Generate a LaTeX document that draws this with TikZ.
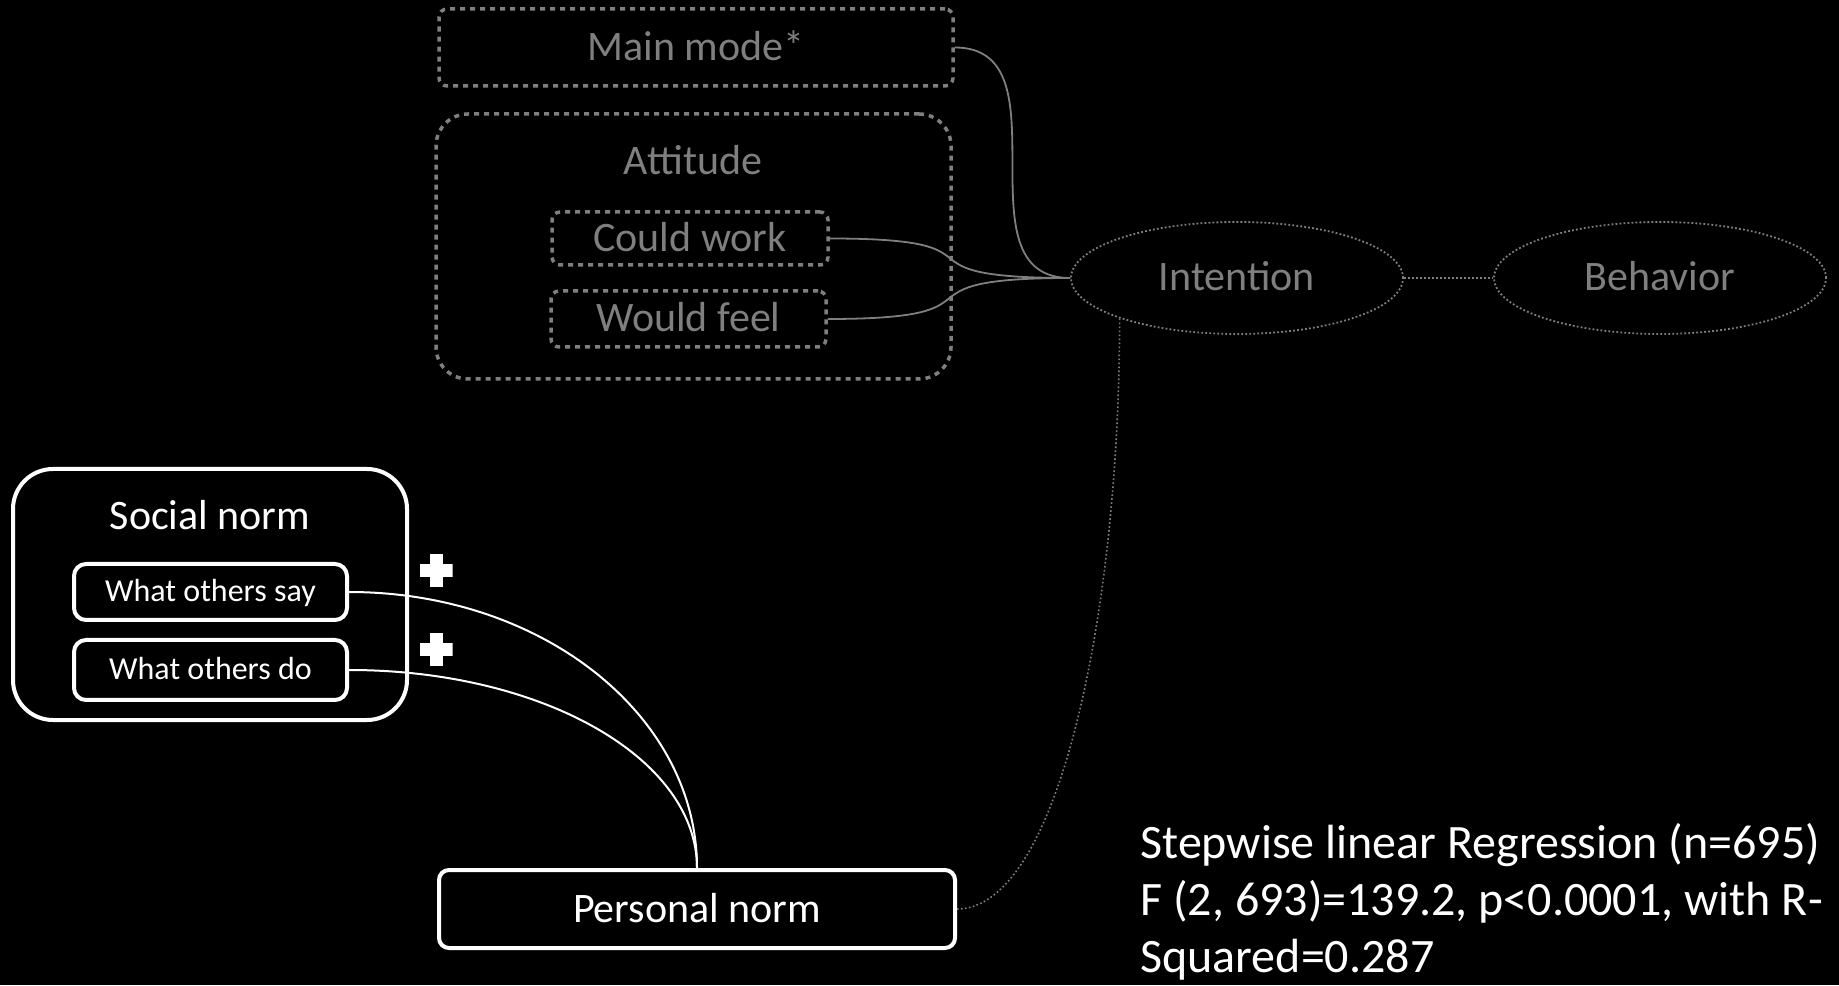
\documentclass[tikz,border=0pt]{standalone}
\usepackage{fontspec}
\setmainfont{Carlito}
\usetikzlibrary{shapes}
\definecolor{dimgrey}{RGB}{127,127,127}
\tikzstyle{bigtext}=[font=\fontsize{21}{25}\selectfont,text height=15pt,text depth=2pt]
\tikzstyle{smalltext}=[font=\fontsize{16}{19}\selectfont,text height=11pt,text depth=1pt]
\tikzstyle{greybox}=[bigtext,draw=dimgrey,text=dimgrey,line width=1.75pt,dash pattern=on 2.5pt off 2.5pt,rounded corners=4pt,inner sep=0pt]
\tikzstyle{greyoval}=[bigtext,ellipse,draw=dimgrey,text=dimgrey,line width=0.9pt,dash pattern=on 0.9pt off 1.1pt,minimum width=166pt,minimum height=56pt]
\tikzstyle{whitebox}=[draw=white,text=white,line width=2pt,rounded corners=6pt,inner sep=0pt]
\tikzstyle{greyedge}=[draw=dimgrey,line width=0.9pt]
\tikzstyle{dotedge}=[draw=dimgrey,line width=0.8pt,dash pattern=on 0.8pt off 1.2pt]
\tikzstyle{whiteedge}=[draw=white,line width=1pt]
\tikzstyle{plussign}=[minimum size=16.5pt,inner sep=0pt,path picture={
    \fill[white] (path picture bounding box.center) ++(-8.25pt,-3.25pt) rectangle ++(16.5pt,6.5pt);
    \fill[white] (path picture bounding box.center) ++(-3.25pt,-8.25pt) rectangle ++(6.5pt,16.5pt);}]

\begin{document}
\begin{tikzpicture}[x=0.5pt,y=0.5pt]
    % Black page, 1839 by 985
    \fill[black] (0,0) rectangle (1839,985);
    \useasboundingbox (0,0) rectangle (1839,985);

    % First the grey part: main mode, attitude and the two ovals
    \node[greybox,minimum width=257.5pt,minimum height=132.5pt,rounded corners=16pt] (attitude) at (693.5,738.5) {};
    \node[bigtext,text=dimgrey] (attitudelabel) at (693,823) {Attitude};
    \foreach \pos/\name/\boxw/\boxh/\txt in {{(696,937.5)/mainmode/257/38.5/Main mode*}, {(690,746.5)/couldwork/138/26.5/Could work}, {(688.5,666)/wouldfeel/137.5/28/Would feel}}
        \node[greybox,minimum width=\boxw pt,minimum height=\boxh pt] (\name) at \pos {\txt};
    \node[greyoval] (intention) at (1237,707) {Intention};
    \node[greyoval] (behavior) at (1660,707) {Behavior};

    % Then the white part: social norm and personal norm
    \node[whitebox,minimum width=197pt,minimum height=125.5pt,rounded corners=20pt] (socialnorm) at (210,390.5) {};
    \node[bigtext,text=white] (socialnormlabel) at (210,468) {Social norm};
    \node[whitebox,smalltext,minimum width=136.5pt,minimum height=28pt] (otherssay) at (210.5,393) {What others say};
    \node[whitebox,smalltext,minimum width=136.5pt,minimum height=30pt] (othersdo) at (210.5,315) {What others do};
    \node[whitebox,bigtext,minimum width=258pt,minimum height=39pt,rounded corners=5pt] (pnorm) at (697,76) {Personal norm};
    \node[plussign] (plussay) at (436,414) {};
    \node[plussign] (plusdo) at (436,335) {};

    % Connect them
    \foreach \source/\bend in {mainmode/115, couldwork/190, wouldfeel/190}
        \path[greyedge] (\source.east) .. controls +(\bend,0) and +(-\bend,0) .. (intention.west);
    \foreach \source/\bend in {otherssay/153, othersdo/110}
        \path[whiteedge] (\source.east) .. controls +(193,0) and +(0,\bend) .. (pnorm.north);
    \path[dotedge] (pnorm.east) .. controls +(100,0) and +(0,-300) .. (intention.199);
    \path[dotedge] (intention) -- (behavior);

    % Regression result
    \node[anchor=north west,align=left,inner sep=0pt,text=white,font=\fontsize{24}{28.5}\selectfont] (stats) at (1140,162)
        {Stepwise linear Regression (n=695)\\F (2, 693)=139.2, p<0.0001, with R-\\Squared=0.287};
\end{tikzpicture}
\end{document}
